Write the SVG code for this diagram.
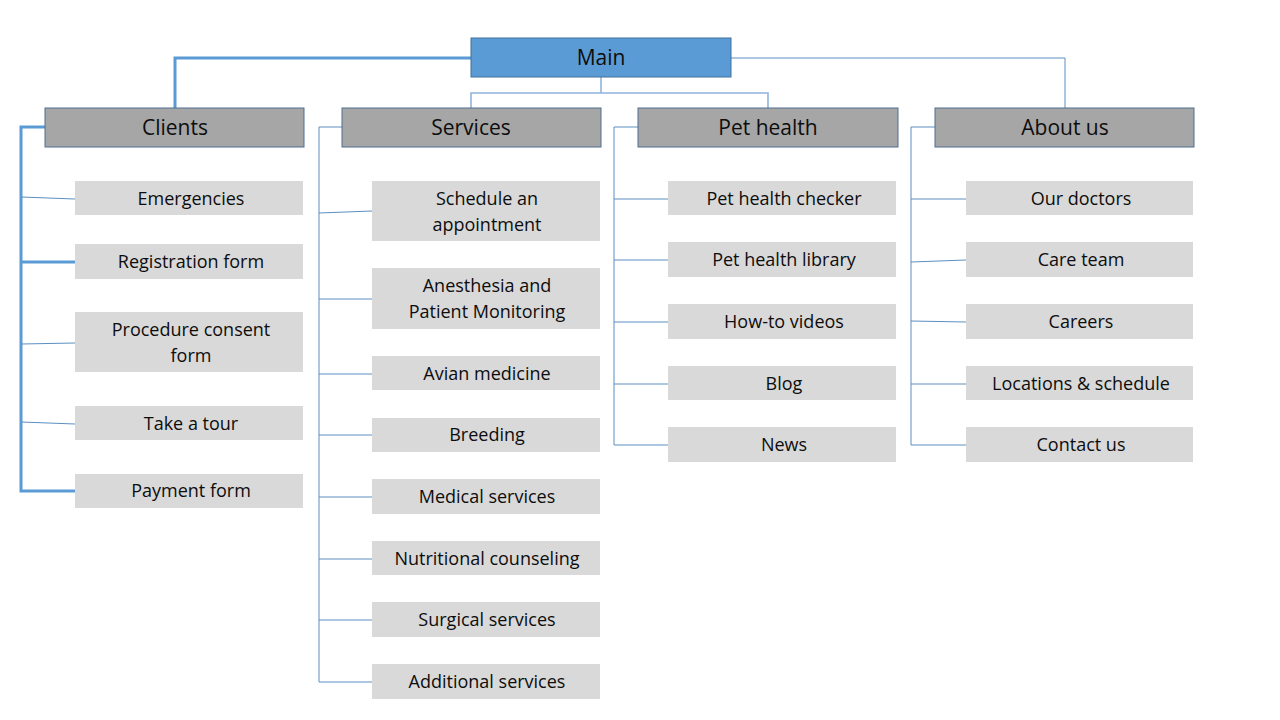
<svg xmlns="http://www.w3.org/2000/svg" width="1280" height="720" viewBox="0 0 1280 720">
<style>
text{font-family:"Open Sans","Liberation Sans",sans-serif;fill:#0d0d0d;text-anchor:middle;dominant-baseline:central}
.main{fill:#5b9bd5;stroke:#41719c;stroke-width:1}
.head{fill:#a6a6a6;stroke:#4f6f8f;stroke-width:1}
.big{font-size:21px}
.sm{font-size:18px}
.item{fill:#d9d9d9}
.thick{stroke:#5b9bd5;stroke-width:3;fill:none}
.thin{stroke:#5b8fc0;stroke-width:1;fill:none}
.mid{stroke:#8fb4dc;stroke-width:1.6;fill:none}
</style>
<rect width="1280" height="720" fill="#fff"/>
<g id="connectors">
<polyline class="thick" points="471,58 175,58 175,108"/>
<polyline class="mid" points="601,77 601,93"/>
<polyline class="mid" points="471,108 471,93 768,93 768,108"/>
<polyline class="thin" points="731,58 1065,58 1065,108"/>
<polyline class="thick" points="45,127 21,127 21,491 75,491"/>
<line class="thin" x1="21" y1="197" x2="75" y2="199"/>
<line class="thick" x1="21" y1="262" x2="75" y2="262"/>
<line class="thin" x1="21" y1="344" x2="75" y2="343"/>
<line class="thin" x1="21" y1="422" x2="75" y2="424"/>
<polyline class="thin" points="342,127 319,127 319,682 372,682"/>
<line class="thin" x1="319" y1="213" x2="372" y2="211"/>
<line class="thin" x1="319" y1="299" x2="372" y2="299"/>
<line class="thin" x1="319" y1="374" x2="372" y2="374"/>
<line class="thin" x1="319" y1="435" x2="372" y2="435"/>
<line class="thin" x1="319" y1="497" x2="372" y2="497"/>
<line class="thin" x1="319" y1="559" x2="372" y2="559"/>
<line class="thin" x1="319" y1="620" x2="372" y2="620"/>
<polyline class="thin" points="638,127 614,127 614,445 668,445"/>
<line class="thin" x1="614" y1="199" x2="668" y2="199"/>
<line class="thin" x1="614" y1="260" x2="668" y2="260"/>
<line class="thin" x1="614" y1="322" x2="668" y2="322"/>
<line class="thin" x1="614" y1="384" x2="668" y2="384"/>
<polyline class="thin" points="935,127 911,127 911,445 966,445"/>
<line class="thin" x1="911" y1="199" x2="966" y2="199"/>
<line class="thin" x1="911" y1="262" x2="966" y2="260"/>
<line class="thin" x1="911" y1="321" x2="966" y2="322"/>
<line class="thin" x1="911" y1="384" x2="966" y2="384"/>
</g>
<g id="main"><rect class="main" x="471" y="38" width="260" height="39"/><text class="big" x="601" y="57">Main</text></g>
<g id="clients"><rect class="head" x="45" y="108" width="259" height="39"/><text class="big" x="175" y="127">Clients</text></g>
<g id="services"><rect class="head" x="342" y="108" width="259" height="39"/><text class="big" x="471" y="127">Services</text></g>
<g id="pethealth"><rect class="head" x="638" y="108" width="260" height="39"/><text class="big" x="768" y="127">Pet health</text></g>
<g id="aboutus"><rect class="head" x="935" y="108" width="259" height="39"/><text class="big" x="1065" y="127">About us</text></g>

<g id="emergencies"><rect class="item" x="75" y="181" width="228" height="34"/><text class="sm" x="191" y="198">Emergencies</text></g>
<g id="registration"><rect class="item" x="75" y="244" width="228" height="35"/><text class="sm" x="191" y="261">Registration form</text></g>
<g id="consent"><rect class="item" x="75" y="312" width="228" height="60"/><text class="sm" x="191" y="329">Procedure consent</text><text class="sm" x="191" y="355">form</text></g>
<g id="tour"><rect class="item" x="75" y="406" width="228" height="34"/><text class="sm" x="191" y="423">Take a tour</text></g>
<g id="payment"><rect class="item" x="75" y="474" width="228" height="34"/><text class="sm" x="191" y="490">Payment form</text></g>

<g id="schedule"><rect class="item" x="372" y="181" width="228" height="60"/><text class="sm" x="487" y="198">Schedule an</text><text class="sm" x="487" y="224">appointment</text></g>
<g id="anesthesia"><rect class="item" x="372" y="268" width="228" height="61"/><text class="sm" x="487" y="285">Anesthesia and</text><text class="sm" x="487" y="311">Patient Monitoring</text></g>
<g id="avian"><rect class="item" x="372" y="356" width="228" height="34"/><text class="sm" x="487" y="373">Avian medicine</text></g>
<g id="breeding"><rect class="item" x="372" y="418" width="228" height="34"/><text class="sm" x="487" y="434">Breeding</text></g>
<g id="medical"><rect class="item" x="372" y="479" width="228" height="35"/><text class="sm" x="487" y="496">Medical services</text></g>
<g id="nutrition"><rect class="item" x="372" y="541" width="228" height="34"/><text class="sm" x="487" y="558">Nutritional counseling</text></g>
<g id="surgical"><rect class="item" x="372" y="602" width="228" height="35"/><text class="sm" x="487" y="619">Surgical services</text></g>
<g id="additional"><rect class="item" x="372" y="664" width="228" height="35"/><text class="sm" x="487" y="681">Additional services</text></g>

<g id="checker"><rect class="item" x="668" y="181" width="228" height="34"/><text class="sm" x="784" y="198">Pet health checker</text></g>
<g id="library"><rect class="item" x="668" y="242" width="228" height="35"/><text class="sm" x="784" y="259">Pet health library</text></g>
<g id="howto"><rect class="item" x="668" y="304" width="228" height="35"/><text class="sm" x="784" y="321">How-to videos</text></g>
<g id="blog"><rect class="item" x="668" y="366" width="228" height="34"/><text class="sm" x="784" y="383">Blog</text></g>
<g id="news"><rect class="item" x="668" y="427" width="228" height="35"/><text class="sm" x="784" y="444">News</text></g>

<g id="doctors"><rect class="item" x="966" y="181" width="227" height="34"/><text class="sm" x="1081" y="198">Our doctors</text></g>
<g id="careteam"><rect class="item" x="966" y="242" width="227" height="35"/><text class="sm" x="1081" y="259">Care team</text></g>
<g id="careers"><rect class="item" x="966" y="304" width="227" height="35"/><text class="sm" x="1081" y="321">Careers</text></g>
<g id="locations"><rect class="item" x="966" y="366" width="227" height="34"/><text class="sm" x="1081" y="383">Locations &amp; schedule</text></g>
<g id="contact"><rect class="item" x="966" y="427" width="227" height="35"/><text class="sm" x="1081" y="444">Contact us</text></g>
</svg>
